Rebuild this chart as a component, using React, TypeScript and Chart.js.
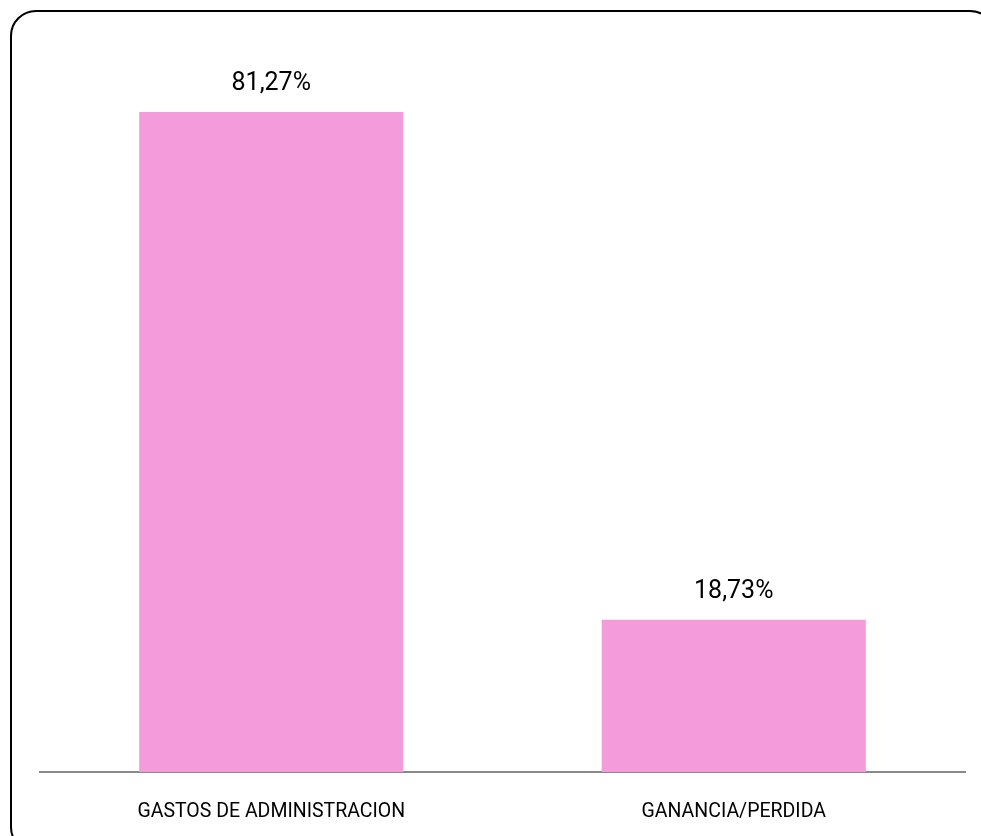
import React, { useEffect, useRef } from "react";
import { Chart, registerables } from "chart.js";

Chart.register(...registerables);

const categories = ["GASTOS DE ADMINISTRACION", "GANANCIA/PERDIDA"];
const values = [81.27, 18.73];
const valueLabels = ["81,27%", "18,73%"];

const FONT = "Roboto, 'Open Sans', sans-serif";

const dataLabelPlugin = {
  id: "dataLabels",
  afterDatasetsDraw(chart: any) {
    const ctx = chart.ctx;
    const meta = chart.getDatasetMeta(0);
    ctx.save();
    ctx.fillStyle = "#000000";
    ctx.font = `25px ${FONT}`;
    ctx.textAlign = "center";
    ctx.textBaseline = "middle";
    meta.data.forEach((bar: any, i: number) => {
      ctx.fillText(valueLabels[i], bar.x, bar.y - 28);
    });
    ctx.restore();
  },
};

export default function App() {
  const ref = useRef<HTMLCanvasElement | null>(null);
  useEffect(() => {
    if (!ref.current) return;
    const chart = new Chart(ref.current, {
      type: "bar",
      data: {
        labels: categories,
        datasets: [
          {
            data: values,
            backgroundColor: "#F49BDB",
            borderWidth: 0,
            categoryPercentage: 1,
            barPercentage: 0.571,
          },
        ],
      },
      options: {
        animation: false,
        responsive: false,
        maintainAspectRatio: false,
        layout: { padding: { left: 40, right: 16, top: 41, bottom: 12 } },
        plugins: {
          legend: { display: false },
          tooltip: { enabled: false },
        },
        scales: {
          x: {
            grid: { display: false, drawTicks: false },
            border: { display: true, color: "#898989", width: 2 },
            ticks: {
              color: "#000000",
              padding: 28,
              font: { size: 19.5, family: FONT },
              maxRotation: 0,
            },
            afterFit: (scale: any) => {
              scale.height = 52;
            },
          },
          y: {
            display: false,
            min: 0,
            max: 90,
          },
        },
      },
      plugins: [dataLabelPlugin],
    });
    return () => chart.destroy();
  }, []);

  return (
    <div
      style={{
        position: "fixed",
        left: 0,
        top: 0,
        width: 981,
        height: 836,
        overflow: "hidden",
        background: "#ffffff",
      }}
    >
      <div
        style={{
          position: "absolute",
          left: 10,
          top: 10,
          width: 982,
          height: 839,
          border: "2px solid #000000",
          borderRadius: 26,
        }}
      />
      <canvas
        ref={ref}
        width={981}
        height={836}
        style={{ position: "absolute", left: 0, top: 0 }}
      />
    </div>
  );
}
